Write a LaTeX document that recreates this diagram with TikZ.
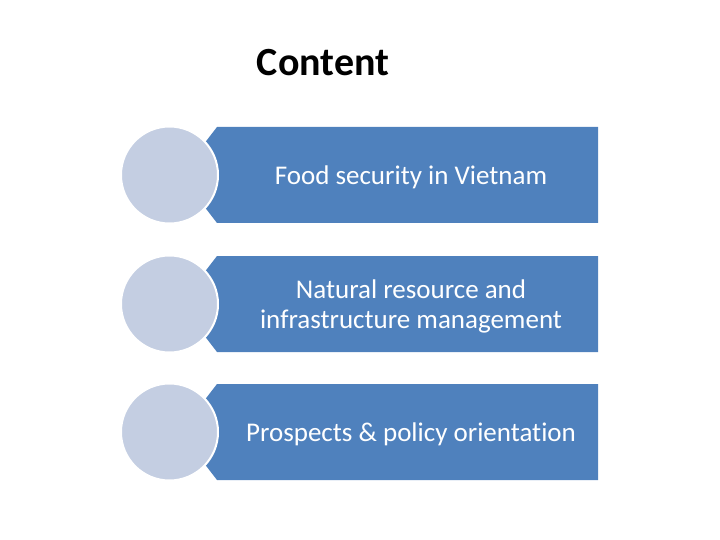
\documentclass[tikz,border=0pt]{standalone}
\usepackage{fontspec}
\setmainfont[Ligatures=NoCommon]{Carlito}
\definecolor{bandblue}{HTML}{4F81BD}
\definecolor{circfill}{HTML}{C4CEE2}
\tikzset{
  band/.style={fill=bandblue, draw=none},
  disc/.style={circle, fill=circfill, draw=white, line width=2pt, minimum size=97pt, inner sep=0pt},
  bandtext/.style={text=white, font=\fontsize{27}{30}\selectfont, align=center},
}
\begin{document}
\begin{tikzpicture}[x=1pt,y=-1pt]
\useasboundingbox (0,0) rectangle (720,540);
\node[font=\fontsize{40}{44}\selectfont\bfseries, anchor=center] (title) at (323,63) {Content};
\foreach \i/\yc in {1/175,2/304,3/432} {
  \fill[band] (217,\yc-48) -- (598,\yc-48) -- (598,\yc+48) -- (217,\yc+48) -- (180,\yc) -- cycle;
  \node[disc] (c\i) at (169.5,\yc) {};
}
\node[bandtext] (t1) at (411,177) {Food security in Vietnam};
\node[bandtext] (t2) at (411,306) {Natural resource and\\infrastructure management};
\node[bandtext] (t3) at (411,434) {Prospects \& policy orientation};
\end{tikzpicture}
\end{document}
